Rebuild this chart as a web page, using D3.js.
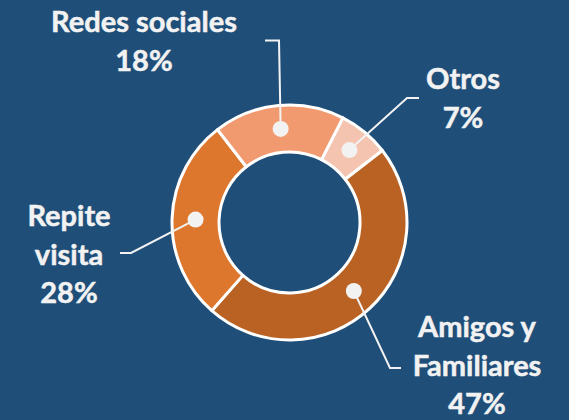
<!DOCTYPE html>
<html>
<head>
<meta charset="utf-8">
<script src="https://cdn.jsdelivr.net/npm/d3@7"></script>
<style>
  body { margin: 0; background: #1f4e79; }
  svg { display: block; }
  .lbl { font-family: Lato, "Open Sans", sans-serif; font-weight: 700; font-size: 29px; fill: #f2f2f2; stroke: #f2f2f2; stroke-width: 0.5px; }
</style>
</head>
<body>
<div id="chart"></div>
<script>
// data, in drawing order (clockwise)
var categories = ["Otros", "Amigos y Familiares", "Repite visita", "Redes sociales"];
var values = [7, 47, 28, 18];
var labelLines = [["Otros"], ["Amigos y", "Familiares"], ["Repite", "visita"], ["Redes sociales"]];

var colors = ["#f4c4b1", "#b96223", "#de772e", "#f19a6f"];

var width = 569, height = 420;
var cx = 289.5, cy = 222.5;
var outerR = 117.5, innerR = 70.5;

// where each label block sits and how its leader line bends
var labelPos = {
  "Otros": { x: 463, y: 89, elbow: [407, 98], end: [419, 98] },
  "Amigos y Familiares": { x: 477, y: 337, elbow: [390, 368], end: [401, 368] },
  "Repite visita": { x: 69, y: 226, elbow: [131, 253], end: [120, 253] },
  "Redes sociales": { x: 144, y: 32, elbow: [279, 40.5], end: [265, 40.5] }
};

var svg = d3.select("#chart").append("svg")
  .attr("width", width)
  .attr("height", height);

svg.append("rect")
  .attr("width", width)
  .attr("height", height)
  .attr("fill", "#1f4e79");

var offset = 27 * Math.PI / 180;

var pie = d3.pie()
  .sort(null)
  .value(function(d) { return d; })
  .startAngle(offset)
  .endAngle(offset + 2 * Math.PI);

var arcs = pie(values);

var arc = d3.arc().innerRadius(innerR).outerRadius(outerR);
var midArc = d3.arc().innerRadius(94).outerRadius(94);

var g = svg.append("g").attr("transform", "translate(" + cx + "," + cy + ")");

g.selectAll("path.slice")
  .data(arcs)
  .enter().append("path")
  .attr("class", "slice")
  .attr("d", arc)
  .attr("fill", function(d, i) { return colors[i]; })
  .attr("stroke", "#ffffff")
  .attr("stroke-width", 3)
  .attr("stroke-linejoin", "round");

// leader lines
arcs.forEach(function(d, i) {
  var c = midArc.centroid(d);
  var p = labelPos[categories[i]];
  var pts = [[cx + c[0], cy + c[1]], p.elbow, p.end];
  svg.append("path")
    .attr("d", d3.line()(pts))
    .attr("fill", "none")
    .attr("stroke", "#f2f2f2")
    .attr("stroke-width", 2);
  svg.append("circle")
    .attr("cx", cx + c[0])
    .attr("cy", cy + c[1])
    .attr("r", 8)
    .attr("fill", "#f2f2f2");
});

// label text
arcs.forEach(function(d, i) {
  var p = labelPos[categories[i]];
  var lines = labelLines[i].concat([values[i] + "%"]);
  var t = svg.append("text")
    .attr("class", "lbl")
    .attr("text-anchor", "middle");
  lines.forEach(function(s, k) {
    t.append("tspan")
      .attr("x", p.x)
      .attr("y", p.y + k * 38.7)
      .text(s);
  });
});
</script>
</body>
</html>
